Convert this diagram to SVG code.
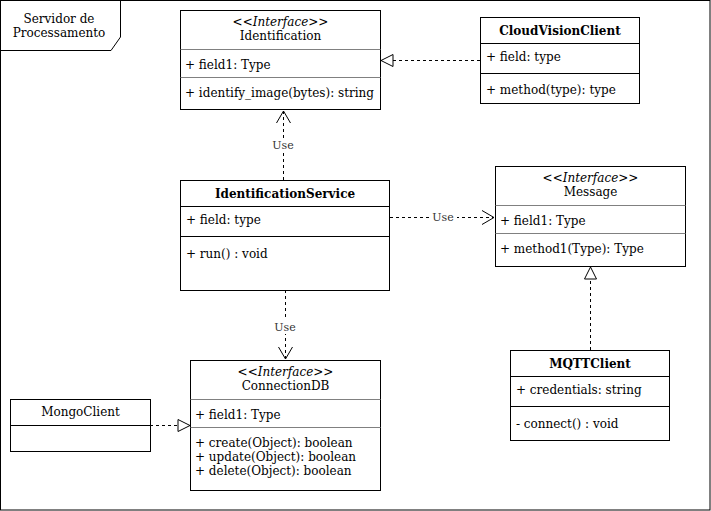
<svg xmlns="http://www.w3.org/2000/svg" width="711" height="511" viewBox="0 0 711 511">
<style>
text{font-family:"DejaVu Serif",serif;font-size:12px;fill:#000}
.c{text-anchor:middle}
.b{font-weight:bold}
.i{font-style:italic}
.box{fill:#fff;stroke:#000;stroke-width:1}
.dg{stroke:#808080;stroke-width:1}
.dk{stroke:#000;stroke-width:1}
.edge{fill:none;stroke:#000;stroke-width:1;stroke-dasharray:3,3}
.lbl{font-size:11px;fill:#333;text-anchor:middle}
.lb{fill:#fff}
</style>
<defs>
<marker id="tri" viewBox="0 0 14 14" refX="13" refY="7" markerWidth="14" markerHeight="14" markerUnits="userSpaceOnUse" orient="auto">
<path d="M1,1 L13,7 L1,13 Z" fill="#fff" stroke="#000" stroke-width="1"/>
</marker>
<marker id="open" viewBox="0 0 14 16" refX="13" refY="8" markerWidth="14" markerHeight="16" markerUnits="userSpaceOnUse" orient="auto">
<path d="M1,1 L13,8 L1,15" fill="none" stroke="#000" stroke-width="1"/>
</marker>
</defs>
<rect x="0" y="0" width="711" height="511" fill="#fff"/>
<g id="frame">
<rect x="0.5" y="0.5" width="709.5" height="509.5" fill="none" stroke="#000"/>
<path d="M0.5,50.5 L111,50.5 L120.5,37 L120.5,0.5" fill="none" stroke="#000"/>
<text class="c" x="59" y="23">Servidor de</text>
<text class="c" x="59" y="37">Processamento</text>
</g>
<g id="connectors">
<path class="edge" d="M480,60.5 L381,60.5" marker-end="url(#tri)"/>
<path class="edge" d="M283.5,180 L283.5,111" marker-end="url(#open)"/>
<rect class="lb" x="270" y="138" width="27" height="14"/>
<text class="lbl" x="283" y="149">Use</text>
<path class="edge" d="M390,217.5 L494,217.5" marker-end="url(#open)"/>
<rect class="lb" x="430" y="210" width="27" height="14"/>
<text class="lbl" x="443" y="221">Use</text>
<path class="edge" d="M285.5,290 L285.5,359" marker-end="url(#open)"/>
<rect class="lb" x="272" y="320" width="27" height="14"/>
<text class="lbl" x="285" y="331">Use</text>
<path class="edge" d="M590.5,350 L590.5,267" marker-end="url(#tri)"/>
<path class="edge" d="M150,425.5 L190,425.5" marker-end="url(#tri)"/>
</g>
<g id="Identification">
<rect class="box" x="180.5" y="10.5" width="200" height="99"/>
<text class="c i" x="280.5" y="26">&lt;&lt;Interface&gt;&gt;</text>
<text class="c" x="280.5" y="40">Identification</text>
<line class="dg" x1="180.5" y1="49.5" x2="380.5" y2="49.5"/>
<text x="185" y="69">+ field1: Type</text>
<line class="dg" x1="180.5" y1="77.5" x2="380.5" y2="77.5"/>
<text x="185" y="97">+ identify_image(bytes): string</text>
</g>
<g id="CloudVisionClient">
<rect class="box" x="480.5" y="17.5" width="159" height="86"/>
<text class="c b" x="560" y="35">CloudVisionClient</text>
<line class="dk" x1="480.5" y1="43.5" x2="639.5" y2="43.5"/>
<text x="486" y="61">+ field: type</text>
<line class="dk" x1="480.5" y1="73.5" x2="639.5" y2="73.5"/>
<text x="486" y="94">+ method(type): type</text>
</g>
<g id="IdentificationService">
<rect class="box" x="180.5" y="180.5" width="209" height="110"/>
<text class="c b" x="285" y="198">IdentificationService</text>
<line class="dk" x1="180.5" y1="206.5" x2="389.5" y2="206.5"/>
<text x="186" y="224">+ field: type</text>
<line class="dk" x1="180.5" y1="236.5" x2="389.5" y2="236.5"/>
<text x="186" y="258">+ run() : void</text>
</g>
<g id="Message">
<rect class="box" x="495.5" y="166.5" width="190" height="100"/>
<text class="c i" x="590.5" y="182">&lt;&lt;Interface&gt;&gt;</text>
<text class="c" x="590.5" y="196">Message</text>
<line class="dg" x1="495.5" y1="205.5" x2="685.5" y2="205.5"/>
<text x="500" y="225">+ field1: Type</text>
<line class="dg" x1="495.5" y1="233.5" x2="685.5" y2="233.5"/>
<text x="500" y="253">+ method1(Type): Type</text>
</g>
<g id="ConnectionDB">
<rect class="box" x="190.5" y="360.5" width="190" height="130"/>
<text class="c i" x="285.5" y="376">&lt;&lt;Interface&gt;&gt;</text>
<text class="c" x="285.5" y="390">ConnectionDB</text>
<line class="dg" x1="190.5" y1="399.5" x2="380.5" y2="399.5"/>
<text x="195" y="419">+ field1: Type</text>
<line class="dg" x1="190.5" y1="427.5" x2="380.5" y2="427.5"/>
<text x="195" y="447">+ create(Object): boolean</text>
<text x="195" y="461">+ update(Object): boolean</text>
<text x="195" y="475">+ delete(Object): boolean</text>
</g>
<g id="MongoClient">
<rect class="box" x="10.5" y="399.5" width="140" height="52"/>
<text class="c" x="80.5" y="416">MongoClient</text>
<line class="dk" x1="10.5" y1="425.5" x2="150.5" y2="425.5"/>
</g>
<g id="MQTTClient">
<rect class="box" x="510.5" y="350.5" width="159" height="90"/>
<text class="c b" x="590" y="368">MQTTClient</text>
<line class="dk" x1="510.5" y1="376.5" x2="669.5" y2="376.5"/>
<text x="516" y="394">+ credentials: string</text>
<line class="dk" x1="510.5" y1="406.5" x2="669.5" y2="406.5"/>
<text x="516" y="428">- connect() : void</text>
</g>
</svg>
